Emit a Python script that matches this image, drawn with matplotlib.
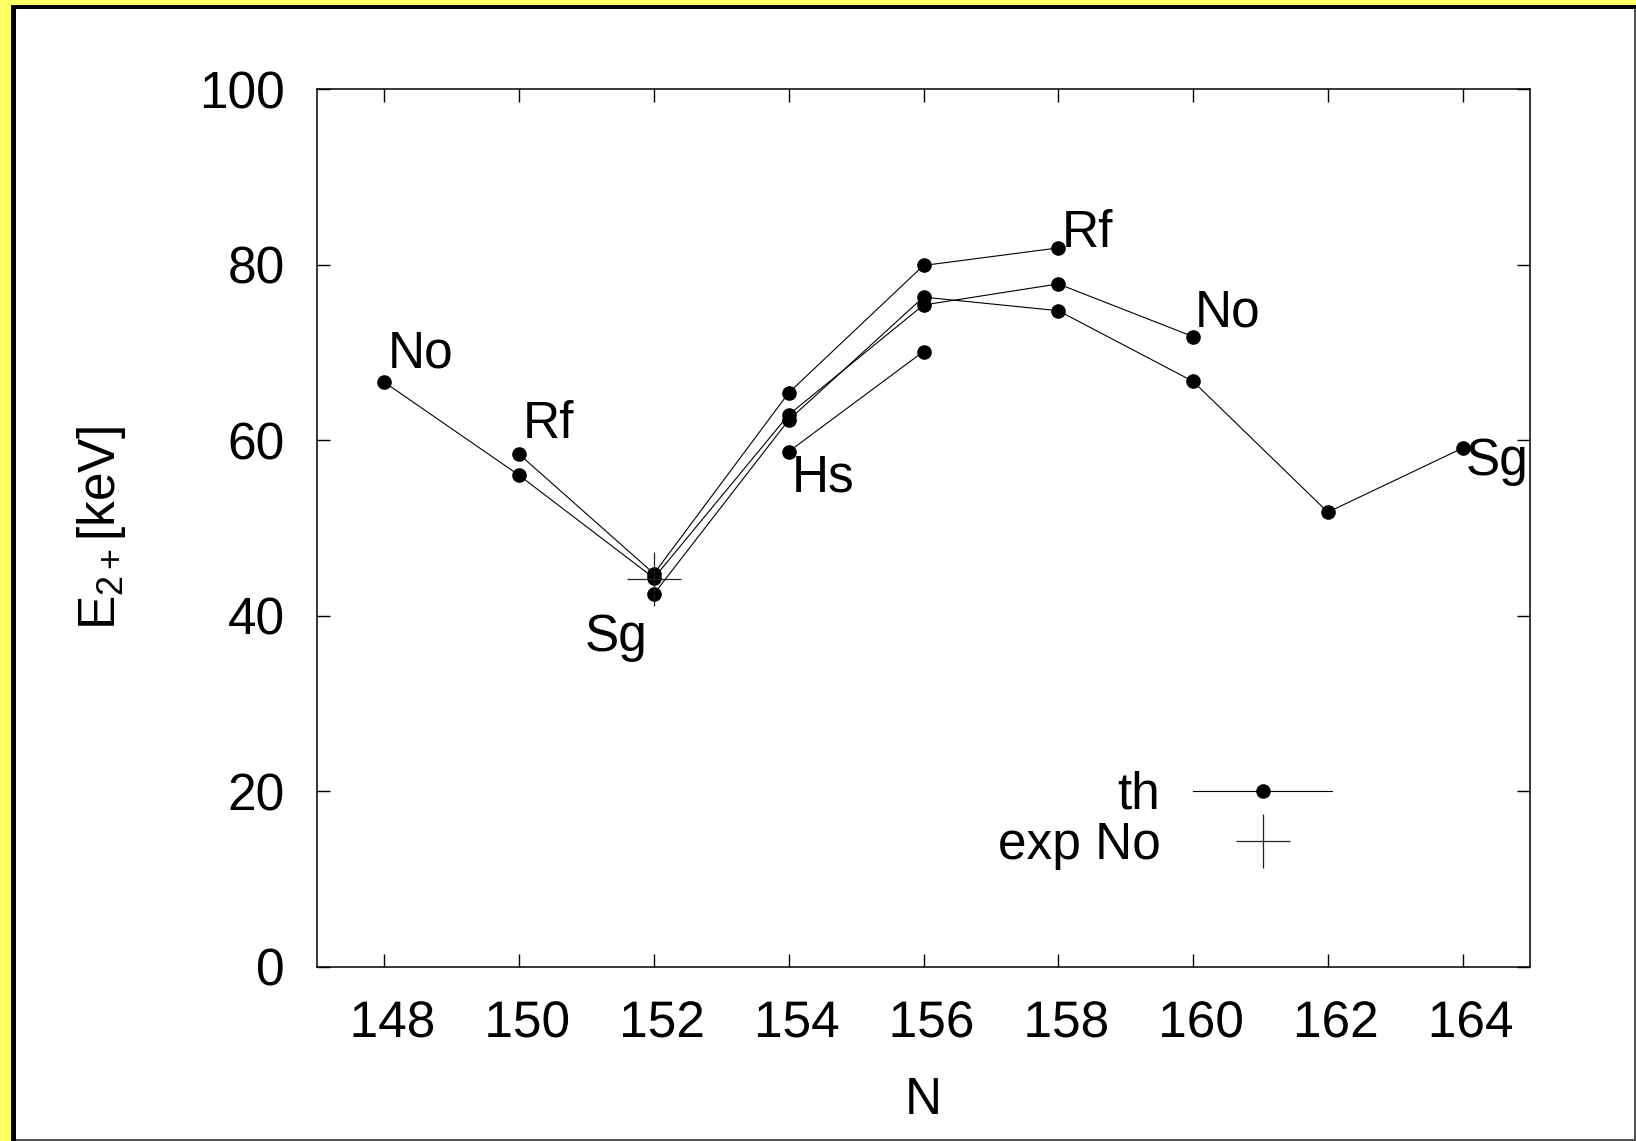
import matplotlib
matplotlib.use("Agg")
import matplotlib.pyplot as plt
from matplotlib.patches import Rectangle
import matplotlib.transforms as mtransforms
import matplotlib.patheffects as pe

plt.rcParams['font.family'] = ['Liberation Sans']
plt.rcParams['mathtext.fontset'] = 'custom'
plt.rcParams['mathtext.rm'] = 'Liberation Sans'
plt.rcParams['mathtext.it'] = 'Liberation Sans'
plt.rcParams['mathtext.default'] = 'regular'

# ---- data ----
N_No = [148, 150, 152, 154, 156, 158, 160]
E_No = [66.6, 56.0, 44.3, 62.9, 75.4, 77.8, 71.8]
N_Rf = [150, 152, 154, 156, 158]
E_Rf = [58.4, 44.8, 65.4, 79.9, 81.9]
N_Sg = [152, 154, 156, 158, 160, 162, 164]
E_Sg = [42.5, 62.3, 76.3, 74.75, 66.7, 51.8, 59.1]
N_Hs = [154, 156]
E_Hs = [58.7, 70.1]
N_exp = [152]
E_exp = [44.2]

x_ticks = [148, 150, 152, 154, 156, 158, 160, 162, 164]
x_tick_labels = ['148', '150', '152', '154', '156', '158', '160', '162', '164']
y_ticks = [0, 20, 40, 60, 80, 100]

W, H = 1636, 1141
fig = plt.figure(figsize=(W / 100, H / 100), dpi=100)
fig.patch.set_facecolor('#ffff66')

# page frame
fig.patches.append(Rectangle((11 / W, 0), 1 - 11 / W, 1 - 5 / H, transform=fig.transFigure,
                             facecolor='black', edgecolor='none', zorder=-3))
fig.patches.append(Rectangle((16 / W, 0), 1 - 16 / W, 1 - 9 / H, transform=fig.transFigure,
                             facecolor='#555555', edgecolor='none', zorder=-2))
fig.patches.append(Rectangle((16 / W, 2 / H), (1634 - 16) / W, (H - 9 - 2) / H, transform=fig.transFigure,
                             facecolor='white', edgecolor='none', zorder=-1))

ax = fig.add_axes([317 / W, 1 - 967 / H, (1530 - 317) / W, (967 - 89) / H])
ax.set_facecolor('none')

FS = 37
lw = 0.8
ms = 9.5
series = [(N_No, E_No), (N_Rf, E_Rf), (N_Sg, E_Sg), (N_Hs, E_Hs)]
handles = []
for xs, ys in series:
    h, = ax.plot(xs, ys, color='black', lw=lw, marker='o', markersize=ms, zorder=3)
    handles.append(h)
hexp, = ax.plot(N_exp, E_exp, linestyle='none', marker='+', markersize=39,
                markeredgewidth=0.9, color='#222222', zorder=4)

# element labels (offset in pixels from series end points; +dy = up)
labels = [
    ('No', N_No[0], E_No[0], 3, 15, 'left'),
    ('Rf', N_Rf[0], E_Rf[0], 4, 16, 'left'),
    ('Sg', N_Sg[0], E_Sg[0], -6, -57, 'right'),
    ('Hs', N_Hs[0], E_Hs[0], 3, -40, 'left'),
    ('Rf', N_Rf[-1], E_Rf[-1], 3, 1, 'left'),
    ('No', N_No[-1], E_No[-1], 2, 10, 'left'),
    ('Sg', N_Sg[-1], E_Sg[-1], 3, -27, 'left'),
]
for txt, x, y, dx, dy, ha in labels:
    ax.annotate(txt, xy=(x, y), xytext=(dx, dy), textcoords='offset pixels',
                ha=ha, va='baseline', fontsize=FS)

ax.set_xlim(147, 165)
ax.set_ylim(0, 100)
ax.set_xticks(x_ticks)
ax.set_yticks(y_ticks)
ax.tick_params(direction='in', length=9.4, width=1.0, top=True, right=True,
               labelsize=FS, pad=23)
ax.tick_params(axis='x', labelbottom=False)
for sp in ax.spines.values():
    sp.set_linewidth(1.1)

# x tick labels, shifted slightly right of the ticks as in the original (baseline-aligned)
xoff = ax.get_xaxis_transform() + mtransforms.ScaledTranslation(8 / 100, -70 / 100, fig.dpi_scale_trans)
for t, s in zip(x_ticks, x_tick_labels):
    ax.text(t, 0, s, transform=xoff, ha='center', va='baseline', fontsize=FS,
            path_effects=[pe.Normal()])

ax.set_xlabel('N', fontsize=FS, va='center')
ax.xaxis.set_label_coords(0.5, (967 - 1100) / (967 - 89))
ax.set_ylabel(r'E$_{2+}$[keV]', fontsize=FS, va='center')
ax.yaxis.set_label_coords((101 - 317) / (1530 - 317), 0.5)

leg = ax.legend([handles[0], hexp], ['th', 'exp No'], markerfirst=False, frameon=False,
                fontsize=FS, handlelength=2.7, handletextpad=0.64, labelspacing=0.02,
                borderpad=0, borderaxespad=0, numpoints=1,
                loc='center right', bbox_to_anchor=(1332 / W, 1 - 820 / H),
                bbox_transform=fig.transFigure)

fig.savefig('out.png', dpi=100, facecolor=fig.get_facecolor())
